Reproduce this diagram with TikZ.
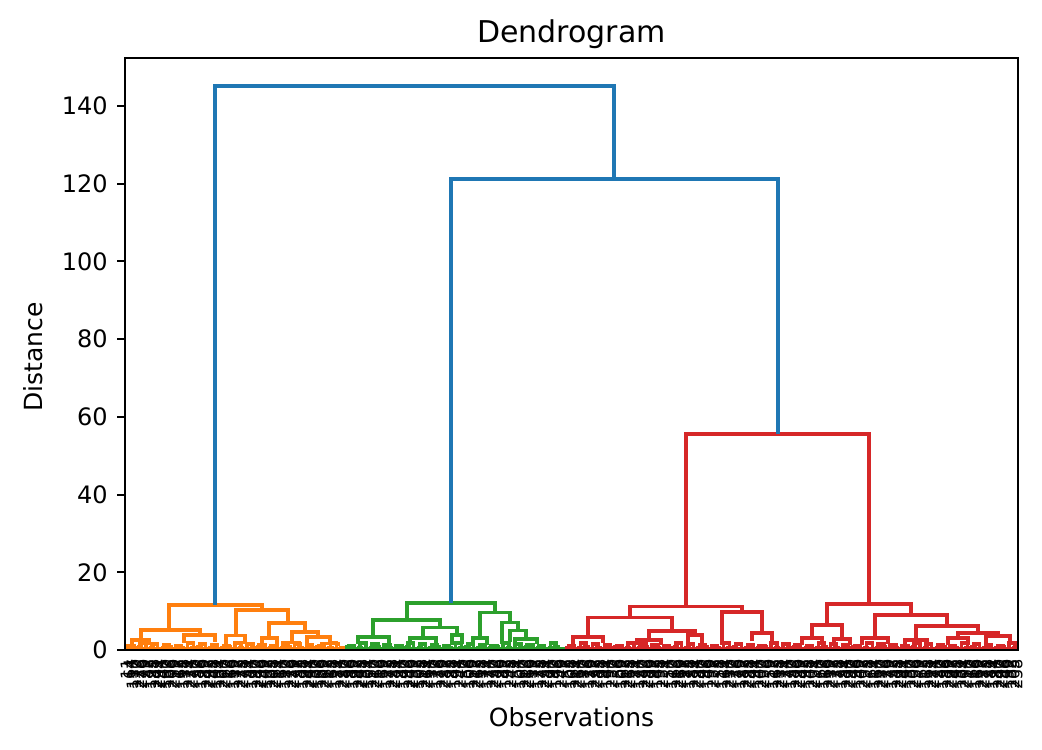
\documentclass[tikz,border=0pt]{standalone}
\usepackage{fontspec}
\setmainfont{DejaVu Sans}
\usepackage{tikz}

\definecolor{cblue}{HTML}{1F77B4}
\definecolor{corange}{HTML}{FF7F0E}
\definecolor{cgreen}{HTML}{2CA02C}
\definecolor{cred}{HTML}{D62728}

\tikzset{
  link/.style={line width=3.4pt},
  frame/.style={line width=1.9pt},
  leaflabel/.style={rotate=90, anchor=east, inner sep=0pt, font=\fontsize{16}{16}\selectfont},
}

\begin{document}
\begin{tikzpicture}[x=1pt,y=1pt]
\useasboundingbox (0,0) rectangle (1042,750);

\node (title) at (571.5,716) {\fontsize{30}{34}\selectfont Dendrogram};
\node (xlabel) at (571.5,33) {\fontsize{25}{28}\selectfont Observations};
\node[rotate=90] (ylabel) at (33,393) {\fontsize{25}{28}\selectfont Distance};

\begin{scope}[yshift=100pt, y=3.8857pt]
	% small merges at the bottom
	\foreach \p in {0,...,36} {
		\pgfmathsetmacro\xa{125+(2*\p+0.5)*2.977}
		\pgfmathsetmacro\xb{\xa+2.977}
		\pgfmathsetmacro\h{0.3+mod(\p*7,5)*0.14}
		\draw[link,corange] (\xa,0) |- (\xb,\h) -- (\xb,0);
	}
	\foreach \p in {37,...,73} {
		\pgfmathsetmacro\xa{125+(2*\p+0.5)*2.977}
		\pgfmathsetmacro\xb{\xa+2.977}
		\pgfmathsetmacro\h{0.3+mod(\p*7,5)*0.14}
		\draw[link,cgreen] (\xa,0) |- (\xb,\h) -- (\xb,0);
	}
	\foreach \p in {74,...,149} {
		\pgfmathsetmacro\xa{125+(2*\p+0.5)*2.977}
		\pgfmathsetmacro\xb{\xa+2.977}
		\pgfmathsetmacro\h{0.3+mod(\p*7,5)*0.14}
		\draw[link,cred] (\xa,0) |- (\xb,\h) -- (\xb,0);
	}

	% pairs of pairs
	\foreach \q in {0,...,17} {
		\pgfmathtruncatemacro\pa{2*\q}
		\pgfmathsetmacro\xa{125+(2*\pa+1)*2.977}
		\pgfmathsetmacro\xb{\xa+2*2.977}
		\pgfmathsetmacro\ha{0.3+mod(\pa*7,5)*0.14}
		\pgfmathsetmacro\hb{0.3+mod((\pa+1)*7,5)*0.14}
		\pgfmathsetmacro\h{1.1+mod(\q*3,4)*0.22}
		\draw[link,corange] (\xa,\ha) |- (\xb,\h) -- (\xb,\hb);
	}
	\foreach \q in {0,...,17} {
		\pgfmathtruncatemacro\pa{37+2*\q}
		\pgfmathsetmacro\xa{125+(2*\pa+1)*2.977}
		\pgfmathsetmacro\xb{\xa+2*2.977}
		\pgfmathsetmacro\ha{0.3+mod(\pa*7,5)*0.14}
		\pgfmathsetmacro\hb{0.3+mod((\pa+1)*7,5)*0.14}
		\pgfmathsetmacro\h{1.1+mod(\q*3,4)*0.22}
		\draw[link,cgreen] (\xa,\ha) |- (\xb,\h) -- (\xb,\hb);
	}
	\foreach \q in {0,...,37} {
		\pgfmathtruncatemacro\pa{74+2*\q}
		\pgfmathsetmacro\xa{125+(2*\pa+1)*2.977}
		\pgfmathsetmacro\xb{\xa+2*2.977}
		\pgfmathsetmacro\ha{0.3+mod(\pa*7,5)*0.14}
		\pgfmathsetmacro\hb{0.3+mod((\pa+1)*7,5)*0.14}
		\pgfmathsetmacro\h{1.1+mod(\q*3,4)*0.22}
		\draw[link,cred] (\xa,\ha) |- (\xb,\h) -- (\xb,\hb);
	}

	% orange cluster
	\draw[link,corange] (169,5.15) |- (262,11.6) -- (262,10.3);
	\draw[link,corange] (141,2.6) |- (200,5.15) -- (200,3.9);
	\draw[link,corange] (132,1.0) |- (149,2.6) -- (149,1.2);
	\draw[link,corange] (184,1.8) |- (215,3.9) -- (215,2.1);
	\draw[link,corange] (236,3.7) |- (288,10.3) -- (288,6.95);
	\draw[link,corange] (226,1.0) |- (245,3.7) -- (245,1.6);
	\draw[link,corange] (269,3.1) |- (305,6.95) -- (305,4.6);
	\draw[link,corange] (262,1.2) |- (277,3.1) -- (277,1.0);
	\draw[link,corange] (292,2.0) |- (318,4.6) -- (318,3.3);
	\draw[link,corange] (285,1.0) |- (299,2.0) -- (299,1.1);
	\draw[link,corange] (307,1.2) |- (330,3.3) -- (330,1.6);
	\draw[link,corange] (322,1.0) |- (338,1.6) -- (338,1.1);

	% green cluster
	\draw[link,cgreen] (407,7.7) |- (495,12.1) -- (495,9.6);
	\draw[link,cgreen] (373,3.3) |- (440,7.7) -- (440,5.8);
	\draw[link,cgreen] (423,3.1) |- (457,5.8) -- (457,3.9);
	\draw[link,cgreen] (452,1.2) |- (462,3.9) -- (462,1.5);
	\draw[link,cgreen] (358,1.5) |- (389,3.3) -- (389,1.8);
	\draw[link,cgreen] (410,1.5) |- (436,3.1) -- (436,1.2);
	\draw[link,cgreen] (480,3.1) |- (510,9.6) -- (510,7.0);
	\draw[link,cgreen] (473,1.0) |- (487,3.1) -- (487,1.2);
	\draw[link,cgreen] (502,1.6) |- (518,7.0) -- (518,5.0);
	\draw[link,cgreen] (510,2.0) |- (526,5.0) -- (526,2.8);
	\draw[link,cgreen] (515,1.2) |- (537,2.8) -- (537,1.5);

	% red cluster
	\draw[link,cred] (686,11.2) |- (869,55.6) -- (869,11.8);
	\draw[link,cred] (630,8.3) |- (742,11.2) -- (742,9.8);
	\draw[link,cred] (588,3.3) |- (672,8.3) -- (672,4.9);
	\draw[link,cred] (573,1.5) |- (603,3.3) -- (603,1.8);
	\draw[link,cred] (649,2.6) |- (695,4.9) -- (695,3.9);
	\draw[link,cred] (637,1.2) |- (661,2.6) -- (661,1.4);
	\draw[link,cred] (688,1.5) |- (702,3.9) -- (702,1.0);
	\draw[link,cred] (722,1.3) |- (762,9.8) -- (762,4.4);
	\draw[link,cred] (752,2.2) |- (772,4.4) -- (772,2.0);
	\draw[link,cred] (827,6.4) |- (911,11.8) -- (911,9.0);
	\draw[link,cred] (812,3.1) |- (842,6.4) -- (842,2.8);
	\draw[link,cred] (802,1.2) |- (822,3.1) -- (822,1.5);
	\draw[link,cred] (834,1.0) |- (850,2.8) -- (850,1.3);
	\draw[link,cred] (875,3.1) |- (947,9.0) -- (947,6.2);
	\draw[link,cred] (862,1.2) |- (888,3.1) -- (888,1.6);
	\draw[link,cred] (916,2.6) |- (978,6.2) -- (978,4.4);
	\draw[link,cred] (905,1.2) |- (927,2.6) -- (927,1.5);
	\draw[link,cred] (958,3.1) |- (998,4.4) -- (998,3.6);
	\draw[link,cred] (948,1.3) |- (968,3.1) -- (968,1.4);
	\draw[link,cred] (986,1.6) |- (1010,3.6) -- (1010,1.2);

	% top merges
	\draw[link,cblue] (215,11.6) |- (614,145.1) -- (614,121.2);
	\draw[link,cblue] (451,12.1) |- (778,121.2) -- (778,55.6);
\end{scope}

% axes
\draw[frame] (125,100) rectangle (1018,692);
\foreach \v in {0,20,...,140} {
	\draw[line width=1.9pt] (125,{100+\v*3.8857}) -- (116.6,{100+\v*3.8857})
		node[anchor=east, inner sep=0pt, xshift=-8pt] (ytick\v) {\fontsize{24}{26}\selectfont\v};
}

% leaf labels
\foreach \i in {0,...,299} {
	\pgfmathtruncatemacro\lab{mod(\i*53+11,300)}
	\node[leaflabel] (leaf\i) at ({125+(\i+0.5)*2.977},91) {\lab};
}
\end{tikzpicture}
\end{document}
